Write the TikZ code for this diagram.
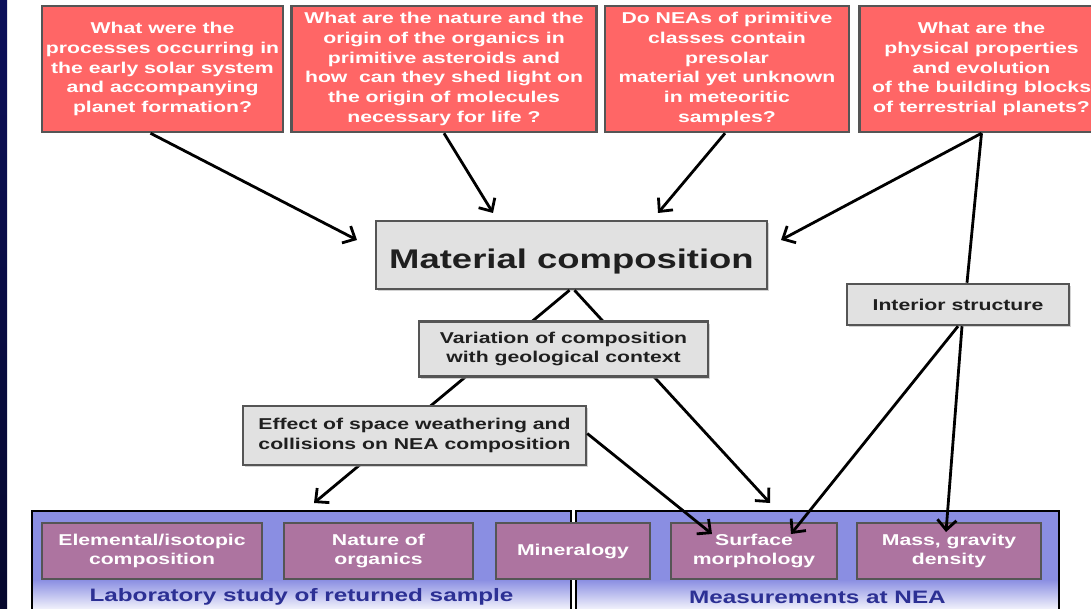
\documentclass[tikz,border=0pt]{standalone}
\usepackage{fontspec}
\setmainfont[FakeStretch=1.35]{Liberation Sans}
\usepackage{xcolor}
\usepackage{tikz}
\usetikzlibrary{positioning}
\usetikzlibrary{arrows.meta,shadows}

\definecolor{qred}{RGB}{255,102,102}
\definecolor{qedge}{RGB}{85,85,85}
\definecolor{topicgray}{RGB}{225,225,225}
\definecolor{labblue}{RGB}{138,142,226}
\definecolor{goalpurple}{RGB}{173,116,160}
\definecolor{navy}{RGB}{12,16,90}
\definecolor{capblue}{RGB}{44,48,148}

\pgfdeclareverticalshading{panelfade}{100bp}{color(0bp)=(white); color(26bp)=(white); color(42bp)=(labblue); color(100bp)=(labblue)}

\tikzset{
  question/.style={draw=qedge, line width=2.5pt, fill=qred, text=white,
    font=\bfseries\fontsize{15.7}{19.8}\selectfont, align=center,
    minimum height=126pt, inner sep=0pt},
  topic/.style={draw=qedge, line width=2.5pt, fill=topicgray, text=black!88,
    font=\bfseries\fontsize{15.7}{19.8}\selectfont, align=center, inner sep=0pt,
    drop shadow={shadow xshift=2pt, shadow yshift=-2pt, fill=black!35}},
  panel/.style={draw=black, line width=2pt, shade, shading=panelfade, inner sep=0pt,
    minimum height=104pt},
  goal/.style={draw=qedge, line width=2pt, fill=goalpurple, text=white,
    font=\bfseries\fontsize{15.7}{19.8}\selectfont, align=center,
    minimum height=56pt, inner sep=0pt},
  caption/.style={text=capblue, font=\bfseries\fontsize{18}{21}\selectfont},
  link/.style={line width=2.8pt},
  arr/.style={line width=2.8pt, -{Straight Barb[length=10pt,width=19pt]}}
}

\begin{document}
\begin{tikzpicture}[x=1pt,y=-1pt]
	\useasboundingbox (0,0) rectangle (1091,609);
	\clip (0,0) rectangle (1091,609);
	\shade[top color=navy, middle color=teal!75!navy, bottom color=navy!50!black] (0,0) rectangle (7,609);

	% questions
	\node[question, minimum width=241pt] (q1) at (162.5,69) {What were the\\processes occurring in\\the early solar system\\and accompanying\\planet formation?};
	\node[question, minimum width=305pt] (q2) [right = 6pt of q1] {What are the nature and the\\origin of the organics in\\primitive asteroids and\\how \ can they shed light on\\the origin of molecules\\necessary for life ?};
	\node[question, minimum width=244pt] (q3) [right = 6pt of q2] {Do NEAs of primitive\\classes contain\\presolar\\material yet unknown\\in meteoritic\\samples?};
	\node[question, minimum width=244pt] (q4) [right = 8pt of q3] {What are the\\physical properties\\and evolution\\of the building blocks\\of terrestrial planets?};

	\node[topic, minimum width=391pt, minimum height=68pt, text height=33pt, text depth=6pt, font=\bfseries\fontsize{27}{32}\selectfont] (mat) at (571.5,255) {Material composition};

	\coordinate (tipL) at (314,503);
	\coordinate (tipR) at (770,503);
	\draw[arr] ([xshift=-2pt]mat.south) -- (tipL);
	\draw[arr] ([xshift=3pt]mat.south) -- (tipR);

	\node[topic, minimum width=289pt, minimum height=55pt] (var) at (563.5,349) {Variation of composition\\with geological context};
	\node[topic, minimum width=343pt, minimum height=59pt] (eff) at (414.5,435.5) {Effect of space weathering and\\collisions on NEA composition};
	\node[topic, minimum width=222pt, minimum height=41pt] (int) at (958,304.5) {Interior structure};

	% sample and mission
	\node[panel, minimum width=539pt] (labbox) at (301.5,563) {};
	\node[panel, minimum width=483pt] (neabox) at (817.5,563) {};
	\node[caption] (labcap) at (labbox.center |- 0,597) {Laboratory study of returned sample};
	\node[caption] (neacap) at (neabox.center |- 0,597) {Measurements at NEA};

	\node[goal, minimum width=220pt] (elem) at (152,551) {Elemental/isotopic\\composition};
	\node[goal, minimum width=189pt] (org) [right = 20pt of elem] {Nature of\\organics};
	\node[goal, minimum width=154pt] (mine) [right = 21pt of org] {Mineralogy};
	\node[goal, minimum width=166pt] (surf) [right = 19pt of mine] {Surface\\morphology};
	\node[goal, minimum width=184pt] (mass) [right = 18pt of surf] {Mass, gravity\\density};

	\coordinate (tip1) at (357,240);
	\coordinate (tip2) at (493,213);
	\coordinate (tip3) at (658,213);
	\coordinate (tip4) at (781,240);
	\coordinate (tipS1) at (712,534);
	\coordinate (tipS2) at (791,534);
	\coordinate (tipM) at (946,532);

	\draw[arr] ([xshift=-12pt]q1.south) -- (tip1);
	\draw[arr] (q2.south) -- (tip2);
	\draw[arr] ([xshift=-2pt]q3.south) -- (tip3);
	\draw[arr] (q4.south) -- (tip4);
	\draw[link] (q4.south) -- ([xshift=9pt]int.north);
	\draw[arr] ([xshift=4pt]int.south) -- (tipM);
	\draw[arr] (int.south) -- (tipS2);
	\draw[arr] ([yshift=2pt]eff.east) -- (tipS1);
\end{tikzpicture}
\end{document}
